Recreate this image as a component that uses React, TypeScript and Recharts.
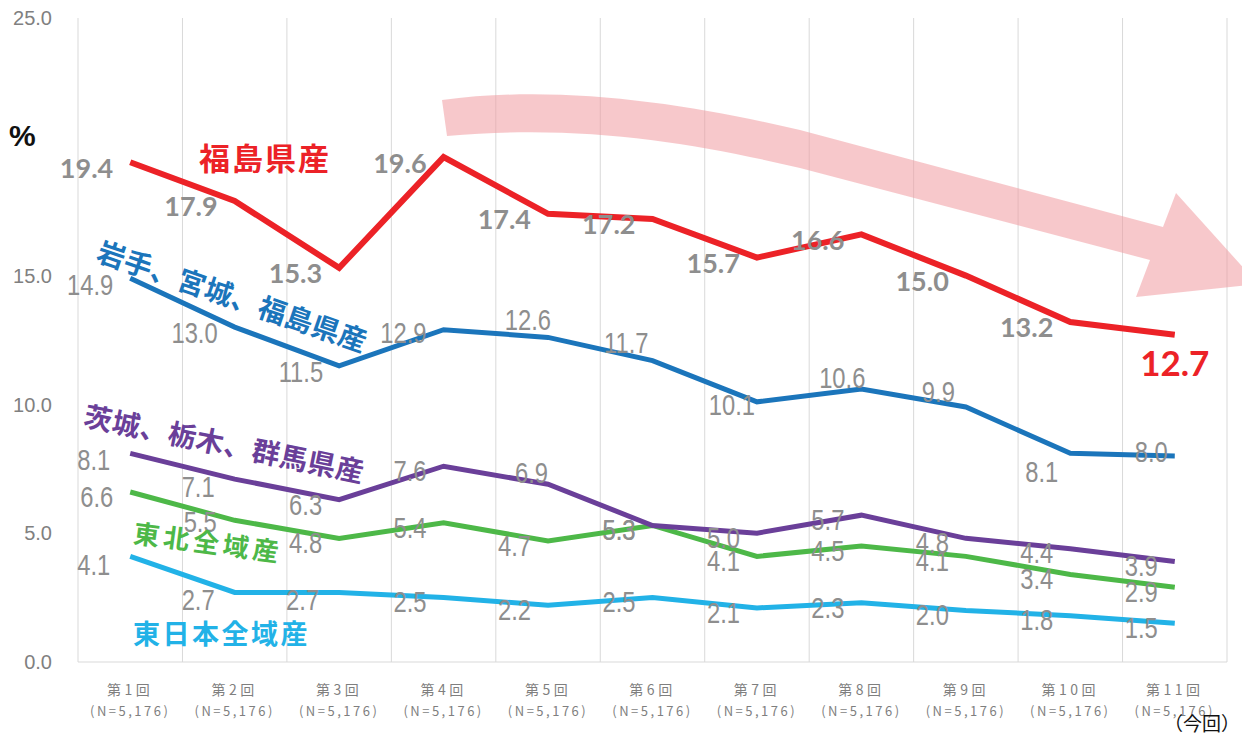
import React from 'react'
import { LineChart, Line, XAxis, YAxis, CartesianGrid, LabelList } from 'recharts'

const rounds = ['第1回', '第2回', '第3回', '第4回', '第5回', '第6回', '第7回', '第8回', '第9回', '第10回', '第11回']
const sampleLabel = '(N=5,176)'

const fukushima = [19.4, 17.9, 15.3, 19.6, 17.4, 17.2, 15.7, 16.6, 15.0, 13.2, 12.7]
const iwateMiyagiFukushima = [14.9, 13.0, 11.5, 12.9, 12.6, 11.7, 10.1, 10.6, 9.9, 8.1, 8.0]
const ibarakiTochigiGunma = [8.1, 7.1, 6.3, 7.6, 6.9, 5.3, 5.0, 5.7, 4.8, 4.4, 3.9]
const tohokuAll = [6.6, 5.5, 4.8, 5.4, 4.7, 5.3, 4.1, 4.5, 4.1, 3.4, 2.9]
const eastJapanAll = [4.1, 2.7, 2.7, 2.5, 2.2, 2.5, 2.1, 2.3, 2.0, 1.8, 1.5]

const yTicks = [0, 5, 10, 15, 20, 25]

const data = rounds.map((r, i) => ({
  round: r,
  fukushima: fukushima[i],
  iwate: iwateMiyagiFukushima[i],
  ibaraki: ibarakiTochigiGunma[i],
  tohoku: tohokuAll[i],
  east: eastJapanAll[i],
}))

// chart geometry
const W = 1242
const H = 733
const LEFT = 78
const RIGHT = 15
const TOP = 18
const PLOT_W = W - LEFT - RIGHT
const HALF_BAND = PLOT_W / rounds.length / 2

const GRAY = '#8e8e8e'
const SANS = "'Liberation Sans', Arial, sans-serif"
const JP = "'Noto Sans CJK JP', 'Noto Sans', sans-serif"

// label offsets [dx, dy] relative to the point; text is right-aligned
type Off = Record<number, [number, number]>
const DEF: [number, number] = [-17, 5]
const offFukushima: Off = {}
const offIwate: Off = { 0: [-17, 7], 1: [-17, 6], 2: [-16, 6], 3: [-17, 3], 4: [3, -17], 5: [-4, -17], 6: [-2, 3], 7: [4, -11], 8: [-11, -15], 9: [-12, 19], 10: [-7, -4] }
const offIbaraki: Off = { 0: [-20, 7], 1: [-20, 8], 4: [0, -11] }
const offTohoku: Off = { 1: [-18, 2] }
const offEast: Off = { 0: [-20, 9], 1: [-20, 8], 2: [-20, 8] }

const makeLabel = (offs: Off, bold: boolean) => (props: any) => {
  const { x, y, value, index } = props
  if (bold && index === rounds.length - 1) {
    return (
      <text x={x} y={y + 27} textAnchor="middle" dominantBaseline="central" fill="#ec2227"
        style={{ fontFamily: "Lato, 'Liberation Sans', sans-serif", fontWeight: 700, fontSize: 35 }}>
        {Number(value).toFixed(1)}
      </text>
    )
  }
  const [dx, dy] = offs[index] || DEF
  if (bold) {
    return (
      <text x={x + dx} y={y + dy} textAnchor="end" dominantBaseline="central" fill={GRAY}
        style={{ fontFamily: "Lato, 'Liberation Sans', sans-serif", fontWeight: 700, fontSize: 27 }}>
        {Number(value).toFixed(1)}
      </text>
    )
  }
  // condensed look: squeeze a regular sans horizontally
  return (
    <g transform={`translate(${x + dx} ${y + dy}) scale(0.82 1)`}>
      <text x={0} y={0} textAnchor="end" dominantBaseline="central" fill={GRAY}
        style={{ fontFamily: SANS, fontSize: 29 }}>
        {Number(value).toFixed(1)}
      </text>
    </g>
  )
}

const RoundTick = (props: any) => {
  const { x, y, payload } = props
  return (
    <g>
      <text x={x} y={y + 27} textAnchor="middle" dominantBaseline="central" fill="#7f7f7f"
        style={{ fontFamily: JP, fontSize: 14, letterSpacing: 3.5 }}>
        {payload.value}
      </text>
      <text x={x} y={y + 48} textAnchor="middle" dominantBaseline="central" fill="#7f7f7f"
        style={{ fontFamily: JP, fontSize: 13, letterSpacing: 2.5 }}>
        {sampleLabel}
      </text>
    </g>
  )
}

const gridX = ({ offset }: any) =>
  Array.from({ length: rounds.length + 1 }, (_, i) => offset.left + (offset.width * i) / rounds.length)

const seriesName = (text: string, x: number, y: number, angle: number, color: string, size: number, spacing: number) => (
  <text x={x} y={y} transform={`rotate(${angle} ${x} ${y})`} dominantBaseline="central" fill={color}
    style={{ fontFamily: JP, fontWeight: 700, fontSize: size, letterSpacing: spacing }}>
    {text}
  </text>
)

export default function App() {
  return (
    <div style={{ position: 'absolute', left: 0, top: 0, width: W, height: H, background: '#fff' }}>
      <LineChart width={W} height={H} data={data} margin={{ top: TOP, right: RIGHT, left: 0, bottom: 11 }}>
        <CartesianGrid horizontal={false} stroke="#d9d9d9" verticalCoordinatesGenerator={gridX} />
        <XAxis dataKey="round" height={60} padding={{ left: HALF_BAND, right: HALF_BAND }}
          axisLine={{ stroke: '#d9d9d9' }} tickLine={false} tickSize={0} tickMargin={0}
          tick={<RoundTick />} interval={0} />
        <YAxis width={LEFT} domain={[0, 25]} ticks={yTicks} axisLine={false} tickLine={false}
          tickSize={0} tickMargin={26} tickFormatter={(v: number) => (v === 20 ? '' : v.toFixed(1))}
          tick={{ fill: '#808080', fontSize: 20, fontFamily: SANS }} />
        <Line dataKey="east" stroke="#22b2e7" strokeWidth={5} dot={false} isAnimationActive={false}>
          <LabelList dataKey="east" content={makeLabel(offEast, false)} />
        </Line>
        <Line dataKey="tohoku" stroke="#4db848" strokeWidth={5} dot={false} isAnimationActive={false}>
          <LabelList dataKey="tohoku" content={makeLabel(offTohoku, false)} />
        </Line>
        <Line dataKey="ibaraki" stroke="#6a3f99" strokeWidth={5} dot={false} isAnimationActive={false}>
          <LabelList dataKey="ibaraki" content={makeLabel(offIbaraki, false)} />
        </Line>
        <Line dataKey="iwate" stroke="#1b75bb" strokeWidth={5} dot={false} isAnimationActive={false}>
          <LabelList dataKey="iwate" content={makeLabel(offIwate, false)} />
        </Line>
        <Line dataKey="fukushima" stroke="#ec2227" strokeWidth={6} dot={false} isAnimationActive={false}>
          <LabelList dataKey="fukushima" content={makeLabel(offFukushima, true)} />
        </Line>
      </LineChart>
      <svg width={W} height={H} style={{ position: 'absolute', left: 0, top: 0, pointerEvents: 'none' }}>
        <path
          d="M442,100 C560,84 690,104 800,130 L1163,227 L1176,193 L1258,284 L1136,297 L1150,260 L800,168 C690,142 580,124 447,136 Z"
          fill="#f19ba1" fillOpacity={0.55} />
        <text x={9} y={135} dominantBaseline="central" fill="#111"
          style={{ fontFamily: SANS, fontSize: 30, fontWeight: 700 }}>%</text>
        {seriesName('福島県産', 199, 156, 0, '#ec2227', 31, 2)}
        {seriesName('岩手、宮城、福島県産', 99, 249, 19, '#1b75bb', 28, 0.3)}
        {seriesName('茨城、栃木、群馬県産', 85, 414, 11.5, '#6a3f99', 28, 0.5)}
        {seriesName('東北全域産', 134, 531, 7.6, '#4db848', 26, 4)}
        {seriesName('東日本全域産', 133, 632, 0, '#22b2e7', 27, 2.5)}
        <text x={1240} y={722} textAnchor="end" dominantBaseline="central" fill="#111"
          style={{ fontFamily: JP, fontSize: 19 }}>（今回）</text>
      </svg>
    </div>
  )
}
